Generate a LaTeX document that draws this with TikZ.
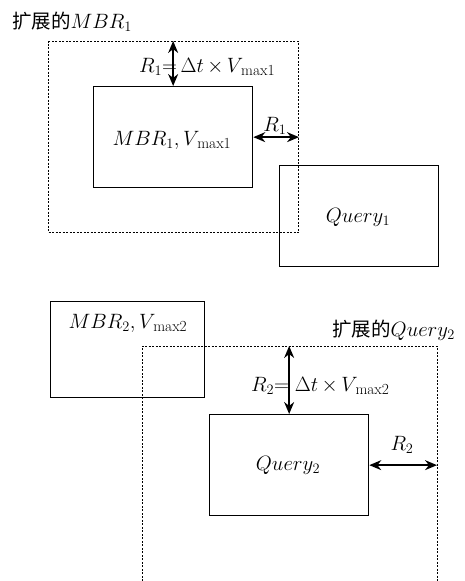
\documentclass[tikz,border=0pt]{standalone}
\usepackage{fontspec}
\newfontfamily\cjk{Noto Sans CJK SC}
\usetikzlibrary{arrows.meta}
\newcommand{\vsub}[1]{_{\,\mathrm{#1}}}
\newcommand{\bigmath}[1]{{\fontsize{22}{26}\selectfont$#1$}}
\begin{document}
\begin{tikzpicture}[x=1pt,y=-1pt,
  box/.style={draw, line width=1.3pt, inner sep=0pt},
  dbox/.style={draw, line width=1pt, dash pattern=on 2pt off 1.5pt, inner sep=0pt},
  dim/.style={{Stealth[length=12pt,width=10pt]}-{Stealth[length=12pt,width=10pt]}, line width=1.4pt},
  lbl/.style={inner sep=0pt, font=\fontsize{22}{26}\selectfont},
  cjklbl/.style={inner sep=0pt, font=\fontsize{19.5}{23}\selectfont\cjk}]
\useasboundingbox (0,0) rectangle (465,581);
% top part
\node[dbox, minimum width=250pt, minimum height=191pt, anchor=north west] (ext1) at (48,41) {};
\node[box, minimum width=159pt, minimum height=101pt, anchor=north west] (mbr1) at (93,86) {};
\node[box, minimum width=159pt, minimum height=101pt, anchor=north west] (q1) at (279,165) {};
\node[cjklbl, anchor=base west] (t1) at (12,28) {扩展的\bigmath{MBR_1}};
\node[lbl, anchor=base] (m1) at (172,145) {$MBR_1, V\vsub{max1}$};
\node[lbl, anchor=base] (q1t) at (358,222) {$Query_1$};
\draw[dim] (mbr1.north) -- (mbr1.north |- ext1.north);
\draw[dim] (mbr1.east) -- (mbr1.east -| ext1.east);
\node[lbl, anchor=base west] (f1) at (139,72) {$R_1{=}\,\Delta t \,{\times}\, V\vsub{max1}$};
\node[lbl, anchor=base] (r1) at (275,131) {$R_1$};
% bottom part
\node[box, minimum width=154pt, minimum height=96pt, anchor=north west] (mbr2) at (50,301) {};
\node[lbl, anchor=base] (m2) at (128,328) {$MBR_2, V\vsub{max2}$};
\coordinate (e2tl) at (142,346);
\coordinate (e2tr) at (437,346);
\coordinate (e2bl) at (142,581);
\coordinate (e2br) at (437,581);
\draw[dbox] (e2bl) -- (e2tl) -- (e2tr) -- (e2br);
\node[cjklbl, anchor=base west] (t2) at (332,336) {扩展的\bigmath{Query_2}};
\node[box, minimum width=159pt, minimum height=101pt, anchor=north west] (q2) at (209,414) {};
\node[lbl, anchor=base] (q2t) at (288,470) {$Query_2$};
\draw[dim] (q2.north) -- (q2.north |- e2tl);
\draw[dim] (q2.east) -- (q2.east -| e2tr);
\node[lbl, anchor=base west] (f2) at (251,391) {$R_2{=}\;\Delta t \,{\times}\, V\vsub{max2}$};
\node[lbl, anchor=base] (r2) at (402,450) {$R_2$};
\end{tikzpicture}
\end{document}
